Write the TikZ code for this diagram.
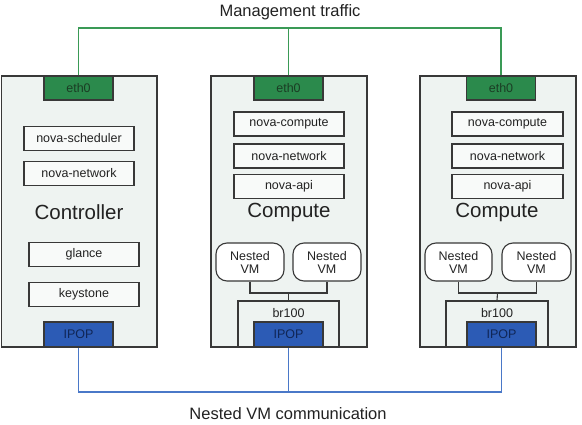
\documentclass[tikz,border=0pt]{standalone}
\usepackage{fontspec}
\setmainfont{Liberation Sans}
\definecolor{hostfill}{HTML}{EEF3F1}
\definecolor{boxline}{HTML}{383838}
\definecolor{ethfill}{HTML}{2B8A4C}
\definecolor{ethtext}{HTML}{1B3D24}
\definecolor{ipopfill}{HTML}{2C5BB5}
\definecolor{ipoptext}{HTML}{102656}
\definecolor{mgmtline}{HTML}{3A9A56}
\definecolor{vmline}{HTML}{4A78C8}
\definecolor{txt}{HTML}{222222}
\tikzset{
  host/.style={draw=boxline, fill=hostfill, line width=1.1pt, inner sep=0pt, minimum width=156pt, minimum height=271pt},
  svc/.style={draw=boxline, fill=white!60!hostfill, line width=1.1pt, inner sep=0pt, minimum width=110pt, minimum height=24pt, font=\fontsize{12.5}{14}\selectfont, text=txt},
  eth/.style={draw=boxline, fill=ethfill, line width=1.1pt, inner sep=0pt, minimum width=69pt, minimum height=24pt, font=\fontsize{12.5}{14}\selectfont, text=ethtext},
  ipop/.style={draw=boxline, fill=ipopfill, line width=1.1pt, inner sep=0pt, minimum width=69pt, minimum height=25pt, font=\fontsize{12.5}{14}\selectfont, text=ipoptext},
  vm/.style={draw=boxline, fill=white, line width=1.1pt, rounded corners=11pt, inner sep=0pt, minimum width=68pt, minimum height=38pt, align=center, font=\fontsize{12.5}{13}\selectfont, text=txt},
  bridge/.style={draw=boxline, fill=hostfill, line width=1.1pt, inner sep=0pt, minimum width=101pt, minimum height=46pt},
  title/.style={font=\fontsize{20.5}{22}\selectfont, text=txt, inner sep=0pt},
  label/.style={font=\fontsize{16.5}{18}\selectfont, text=txt, inner sep=0pt},
  small/.style={font=\fontsize{12.5}{14}\selectfont, text=txt, inner sep=0pt},
  conn/.style={draw=boxline, line width=1.1pt},
  mgmt/.style={draw=mgmtline, line width=1.5pt},
  vmnet/.style={draw=vmline, line width=1.5pt}
}
\begin{document}
\begin{tikzpicture}[x=1pt,y=-1pt]
\useasboundingbox (0,0) rectangle (582,425);
\coordinate (mgy) at (0,28);
\coordinate (vny) at (0,392);
% hosts
\node[host, minimum width=155.5pt] (ctrl) at (79.25,211.5) {};
\node[host] (cpa) at (289,211.5) {};
\node[host] (cpb) at (498,211.5) {};
% controller
\node[eth] (ea) at (78.5,88) {eth0};
\node[svc] (sched) at (79,138.5) {nova-scheduler};
\node[svc] (neta) at (79,173.5) {nova-network};
\node[title] (tctrl) at (79,212) {Controller};
\node[svc] (glance) at (84,254.5) {glance};
\node[svc] (keystone) at (84,294.5) {keystone};
\node[ipop] (ia) at (78.5,334.5) {IPOP};
% compute 1
\node[eth] (eb) at (288.5,88) {eth0};
\node[svc] (compb) at (289,124) {nova-compute};
\node[svc] (netb) at (289,156) {nova-network};
\node[svc] (apib) at (289,186.5) {nova-api};
\node[title] (tcpa) at (289,212) {Compute};
\node[vm] (vmb1) at (250,262) {Nested\\VM};
\node[vm] (vmb2) at (327,262) {Nested\\VM};
\node[bridge] (brb) at (288.5,324) {};
\node[small] (brbt) at (288.5,313) {br100};
\node[ipop] (ib) at (288.5,334.5) {IPOP};
\coordinate (jb) at (288.5,293);
\draw[conn] (vmb1.south) |- (jb) -| (vmb2.south);
\draw[conn] (jb) -- (brb.north);
% compute 2
\node[eth] (ec) at (501,88) {eth0};
\node[svc, minimum width=111pt] (compc) at (507.5,124) {nova-compute};
\node[svc, minimum width=111pt] (netc) at (507.5,156) {nova-network};
\node[svc, minimum width=111pt] (apic) at (507.5,186.5) {nova-api};
\node[title] (tcpb) at (497,212) {Compute};
\node[vm, minimum width=67pt] (vmc1) at (458.5,262) {Nested\\VM};
\node[vm, minimum width=69pt] (vmc2) at (536.5,262) {Nested\\VM};
\node[bridge, minimum width=102pt] (brc) at (497,324) {};
\node[small] (brct) at (497,313) {br100};
\node[ipop] (ic) at (501.5,334.5) {IPOP};
\coordinate (jc) at (497.5,293);
\draw[conn] (vmc1.south) |- (jc) -| (vmc2.south);
\draw[conn] (jc) -- (brc.north);
% management network
\draw[mgmt] (ea.north) -- (ea.north |- mgy) -- (ec.north |- mgy) -- (ec.north);
\draw[mgmt] (eb.north) -- (eb.north |- mgy);
\node[label] (mlabel) at (290,12) {Management traffic};
% nested VM network
\draw[vmnet] (ia.south) -- (ia.south |- vny) -- (ic.south |- vny) -- (ic.south);
\draw[vmnet] (ib.south) -- (ib.south |- vny);
\node[label] (vlabel) at (288,414) {Nested VM communication};
\end{tikzpicture}
\end{document}
